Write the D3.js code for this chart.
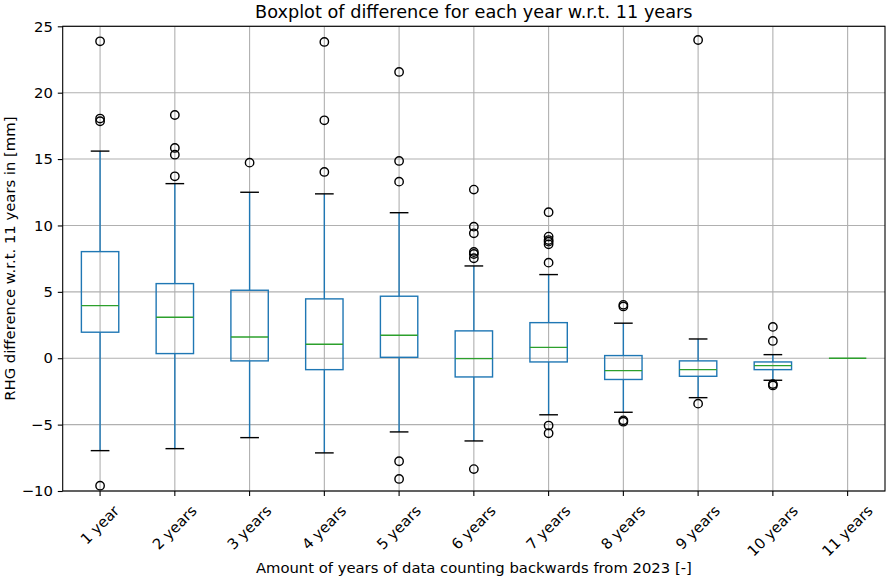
<!DOCTYPE html>
<html>
<head>
<meta charset="utf-8">
<script src="https://cdn.jsdelivr.net/npm/d3@7"></script>
<style>
  html, body { margin: 0; padding: 0; background: #fff; }
  svg text { font-family: "DejaVu Sans", sans-serif; fill: #000; }
</style>
</head>
<body>
<svg id="chart" width="886" height="580"></svg>
<script>
// Box statistics per window length (mm, difference w.r.t. the 11-year value)
const categories = ["1 year", "2 years", "3 years", "4 years", "5 years", "6 years",
                    "7 years", "8 years", "9 years", "10 years", "11 years"];
const whiskerLow  = [-6.96, -6.81, -5.98, -7.13, -5.55, -6.23, -4.26, -4.07, -2.97, -1.66, 0];
const q1          = [ 1.96,  0.35, -0.20, -0.86,  0.07, -1.41, -0.28, -1.60, -1.36, -0.86, 0];
const median      = [ 3.96,  3.09,  1.60,  1.05,  1.73, -0.03,  0.82, -0.93, -0.86, -0.56, 0];
const q3          = [ 8.03,  5.62,  5.12,  4.47,  4.67,  2.06,  2.68,  0.20, -0.20, -0.28, 0];
const whiskerHigh = [15.60, 13.15, 12.50, 12.38, 10.96,  6.95,  6.30,  2.64,  1.45,  0.27, 0];
const outliers = [
  [23.87, 18.05, 17.85, -9.60],
  [18.32, 15.84, 15.33, 13.70],
  [14.73],
  [23.82, 17.92, 14.03],
  [21.56, 14.86, 13.30, -7.76, -9.09],
  [12.70, 9.91, 9.41, 8.00, 7.85, 7.53, -8.35],
  [11.00, 9.16, 8.90, 8.78, 8.58, 7.20, -5.07, -5.65],
  [4.02, 3.90, -4.68, -4.78],
  [23.97, -3.42],
  [2.36, 1.30, -1.95, -2.05],
  []
];
const yTicks = [-10, -5, 0, 5, 10, 15, 20, 25];

const title = "Boxplot of difference for each year w.r.t. 11 years";
const xTitle = "Amount of years of data counting backwards from 2023 [-]";
const yTitle = "RHG difference w.r.t. 11 years in [mm]";

const W = 886, H = 580;
const margin = { top: 26.3, right: 1, bottom: 89, left: 62.7 };
const plotW = W - margin.left - margin.right;
const plotH = H - margin.top - margin.bottom;

const svg = d3.select("#chart");
const g = svg.append("g").attr("transform", `translate(${margin.left},${margin.top})`);

const x = d3.scaleBand().domain(categories).range([0, plotW]).padding(0);
const y = d3.scaleLinear().domain([-10, 25]).range([plotH, 0]);
const cx = c => x(c) + x.bandwidth() / 2;

const tickFont = 14.8;
const titleFont = 17.7;
const gridColor = "#b0b0b0";

// Grid
g.append("g").selectAll("line.hgrid").data(yTicks).join("line")
  .attr("x1", 0).attr("x2", plotW)
  .attr("y1", d => y(d)).attr("y2", d => y(d))
  .attr("stroke", gridColor).attr("stroke-width", 1.1);
g.append("g").selectAll("line.vgrid").data(categories).join("line")
  .attr("x1", d => cx(d)).attr("x2", d => cx(d))
  .attr("y1", 0).attr("y2", plotH)
  .attr("stroke", gridColor).attr("stroke-width", 1.1);

// Boxes
const boxW = x.bandwidth() * 0.5;
const capW = x.bandwidth() * 0.25;
const blue = "#1f77b4", green = "#2ca02c";
const stats = categories.map((c, i) => ({
  c, lo: whiskerLow[i], q1: q1[i], med: median[i], q3: q3[i], hi: whiskerHigh[i], out: outliers[i]
}));
const spread = stats.filter(d => d.hi > d.lo);

const bx = g.append("g").selectAll("g.box").data(spread).join("g");
// whiskers
bx.append("line")
  .attr("x1", d => cx(d.c)).attr("x2", d => cx(d.c))
  .attr("y1", d => y(d.q1)).attr("y2", d => y(d.lo))
  .attr("stroke", blue).attr("stroke-width", 1.4);
bx.append("line")
  .attr("x1", d => cx(d.c)).attr("x2", d => cx(d.c))
  .attr("y1", d => y(d.q3)).attr("y2", d => y(d.hi))
  .attr("stroke", blue).attr("stroke-width", 1.4);
// caps
bx.append("line")
  .attr("x1", d => cx(d.c) - capW / 2).attr("x2", d => cx(d.c) + capW / 2)
  .attr("y1", d => y(d.lo)).attr("y2", d => y(d.lo))
  .attr("stroke", "#000").attr("stroke-width", 1.4);
bx.append("line")
  .attr("x1", d => cx(d.c) - capW / 2).attr("x2", d => cx(d.c) + capW / 2)
  .attr("y1", d => y(d.hi)).attr("y2", d => y(d.hi))
  .attr("stroke", "#000").attr("stroke-width", 1.4);
// box
bx.append("rect")
  .attr("x", d => cx(d.c) - boxW / 2).attr("width", boxW)
  .attr("y", d => y(d.q3)).attr("height", d => Math.max(0, y(d.q1) - y(d.q3)))
  .attr("fill", "none").attr("stroke", blue).attr("stroke-width", 1.4);
// fliers
bx.selectAll("circle").data(d => d.out.map(v => ({ c: d.c, v }))).join("circle")
  .attr("cx", d => cx(d.c)).attr("cy", d => y(d.v)).attr("r", 4.2)
  .attr("fill", "none").attr("stroke", "#000").attr("stroke-width", 1.4);

// medians (drawn for every category, including the zero-spread one)
g.append("g").selectAll("line").data(stats).join("line")
  .attr("x1", d => cx(d.c) - boxW / 2).attr("x2", d => cx(d.c) + boxW / 2)
  .attr("y1", d => y(d.med)).attr("y2", d => y(d.med))
  .attr("stroke", green).attr("stroke-width", 1.4);

// Y axis
const yAxis = g.append("g").call(d3.axisLeft(y).tickValues(yTicks).tickSize(4.9).tickPadding(4.9));
yAxis.select(".domain").remove();
yAxis.selectAll(".tick line").attr("stroke", "#000").attr("stroke-width", 1.1);
yAxis.selectAll(".tick text").attr("font-size", tickFont).attr("font-family", "DejaVu Sans, sans-serif");

// X axis
const xAxis = g.append("g").attr("transform", `translate(0,${plotH})`)
  .call(d3.axisBottom(x).tickSize(4.9).tickFormat(""));
xAxis.select(".domain").remove();
xAxis.selectAll(".tick line").attr("stroke", "#000").attr("stroke-width", 1.1);

// rotated category labels: bounding box centred under each tick
const labelTop = plotH + 4.9 + 6.5;
const textH = tickFont * 1.16;
categories.forEach(c => {
  const t = g.append("text")
    .attr("font-size", tickFont)
    .attr("text-anchor", "middle")
    .attr("dy", "0.32em")
    .text(c);
  const w = t.node().getComputedTextLength();
  const half = (w + textH) / (2 * Math.SQRT2);
  t.attr("transform", `translate(${cx(c)},${labelTop + half}) rotate(-45)`);
});

// Frame
g.append("rect").attr("x", 0).attr("y", 0).attr("width", plotW).attr("height", plotH)
  .attr("fill", "none").attr("stroke", "#000").attr("stroke-width", 1.1);

// Titles
svg.append("text").attr("x", margin.left + plotW / 2).attr("y", 17.5)
  .attr("text-anchor", "middle").attr("font-size", titleFont).text(title);
svg.append("text").attr("x", margin.left + plotW / 2).attr("y", 573)
  .attr("text-anchor", "middle").attr("font-size", tickFont).text(xTitle);
svg.append("text")
  .attr("transform", `translate(15,${margin.top + plotH / 2}) rotate(-90)`)
  .attr("text-anchor", "middle").attr("font-size", tickFont).text(yTitle);
</script>
</body>
</html>
